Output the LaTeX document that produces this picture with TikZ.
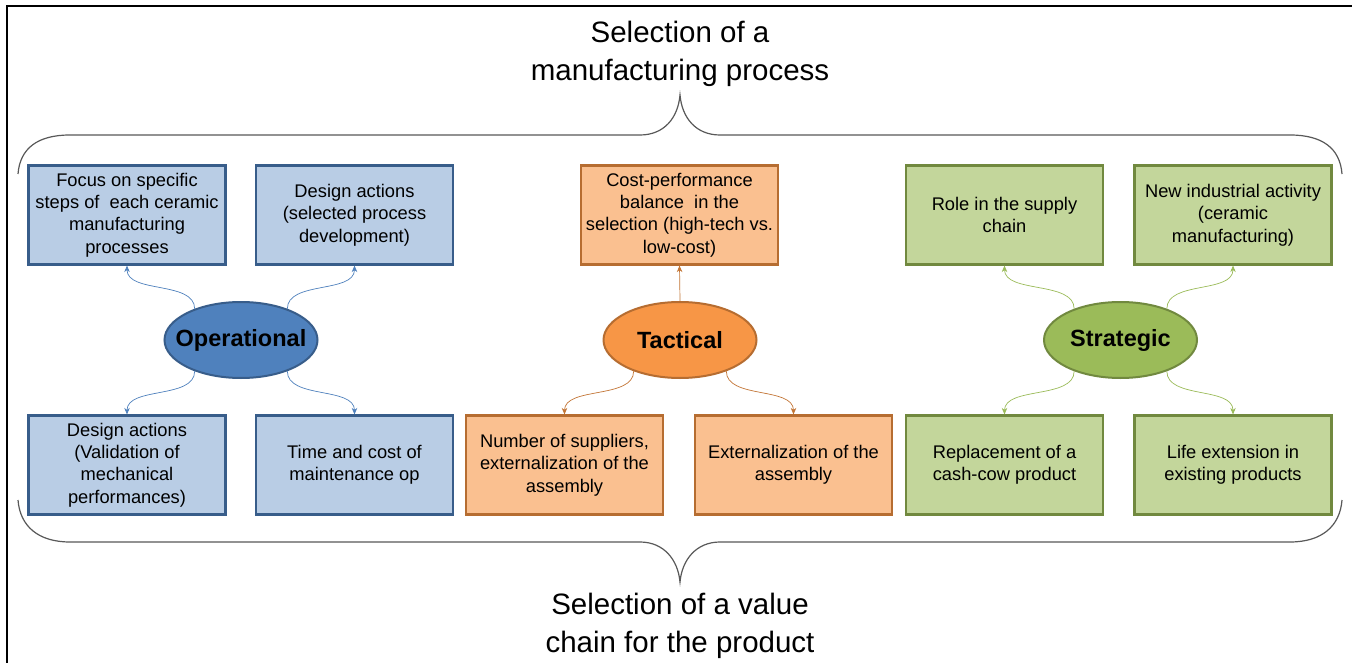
\documentclass[tikz,border=0pt]{standalone}
\usepackage{fontspec}
\setmainfont{Liberation Sans}
\usetikzlibrary{shapes.geometric,arrows.meta}
\definecolor{bfill}{HTML}{B9CDE5}\definecolor{bdraw}{HTML}{385D8A}\definecolor{bacc}{HTML}{4F81BD}
\definecolor{ofill}{HTML}{FAC090}\definecolor{odraw}{HTML}{B66D31}\definecolor{oacc}{HTML}{F79646}
\definecolor{gfill}{HTML}{C3D69B}\definecolor{gdraw}{HTML}{71893F}\definecolor{gacc}{HTML}{9BBB59}
\definecolor{bracecol}{HTML}{595959}
\newcommand{\zbox}[1]{\makebox[0pt][c]{#1}}
\tikzset{
  boxbase/.style={rectangle, minimum width=197pt, minimum height=99pt, line width=2.2pt, align=center, inner sep=2pt,
    font=\fontsize{18.3}{22.4}\selectfont},
  bbox/.style={boxbase, fill=bfill, draw=bdraw},
  obox/.style={boxbase, fill=ofill, draw=odraw},
  gbox/.style={boxbase, fill=gfill, draw=gdraw},
  ellbase/.style={ellipse, minimum width=153pt, minimum height=76pt, inner sep=0pt, line width=2pt,
    font=\fontsize{23.5}{27}\selectfont\bfseries},
  bell/.style={ellbase, fill=bacc, draw=bdraw},
  oell/.style={ellbase, fill=oacc, draw=odraw},
  gell/.style={ellbase, fill=gacc, draw=gdraw},
  conn/.style={line width=0.7pt, -{Stealth[length=6.5pt,width=5.5pt]}},
  bconn/.style={conn, draw=bacc},
  oconn/.style={conn, draw=odraw!80!oacc},
  gconn/.style={conn, draw=gacc},
  bracestyle/.style={draw=bracecol, line width=1.2pt},
  titletext/.style={align=center, font=\fontsize{29.5}{38}\selectfont}
}
\begin{document}
\begin{tikzpicture}[x=1pt,y=-1pt]
\useasboundingbox (0,0) rectangle (1352,663);
\fill[white] (0,0) rectangle (1352,663);
% frame
\coordinate (fr1) at (1352,6);
\coordinate (fr2) at (7,6);
\coordinate (fr3) at (7,663);
\draw[black, line width=1.4pt] (fr1) -- (fr2) -- (fr3);

% titles
\node[titletext] (ttop) at (680,54) {Selection of a\\manufacturing process};
\node[titletext] (tbot) at (680,626) {Selection of a value\\chain for the product};

% braces
\coordinate (tl) at (18,174);
\coordinate (tc) at (680,95);
\coordinate (tr) at (1342,174);
\draw[bracestyle] (tl) .. controls (20,148) and (38,135) .. (70,135) -- (640,135)
  .. controls (664,135) and (678,118) .. (tc)
  .. controls (682,118) and (696,135) .. (720,135) -- (1290,135)
  .. controls (1322,135) and (1340,148) .. (tr);
\coordinate (bl) at (18,500);
\coordinate (bc) at (680,582);
\coordinate (br) at (1342,500);
\draw[bracestyle] (bl) .. controls (20,526) and (38,542) .. (70,542) -- (640,542)
  .. controls (664,542) and (678,560) .. (bc)
  .. controls (682,560) and (696,542) .. (720,542) -- (1290,542)
  .. controls (1322,542) and (1340,526) .. (br);

% operational
\node[bbox] (b1) at (127,215) {Focus on specific\\steps of \ each ceramic\\manufacturing\\processes};
\node[bbox] (b2) at (354.5,215) {Design actions\\(selected process\\development)};
\node[bbox] (b3) at (127,465) {Design actions\\(Validation of\\mechanical\\performances)};
\node[bbox] (b4) at (354.5,465) {Time and cost of\\maintenance op};
\node[bell] (op) at (241,340) {\zbox{Operational}};
\draw[bconn] (op.146) .. controls +(0,-28) and +(0,28) .. (b1.south);
\draw[bconn] (op.34) .. controls +(0,-28) and +(0,28) .. (b2.south);
\draw[bconn] (op.214) .. controls +(0,28) and +(0,-28) .. (b3.north);
\draw[bconn] (op.-34) .. controls +(0,28) and +(0,-28) .. (b4.north);

% tactical
\node[obox] (t1) at (679.5,215) {Cost-performance\\balance \ in the\\selection (high-tech vs.\\low-cost)};
\node[obox] (t2) at (564.5,465) {Number of suppliers,\\externalization of the\\assembly};
\node[obox] (t3) at (793.5,465) {Externalization of the\\assembly};
\node[oell] (ta) at (680,340) {\zbox{Tactical}};
\draw[oconn] (ta.north) -- (t1.south);
\draw[oconn] (ta.214) .. controls +(0,28) and +(0,-28) .. (t2.north);
\draw[oconn] (ta.-34) .. controls +(0,28) and +(0,-28) .. (t3.north);

% strategic
\node[gbox] (s1) at (1004.5,215) {Role in the supply\\chain};
\node[gbox] (s2) at (1233,215) {New industrial activity\\(ceramic\\manufacturing)};
\node[gbox] (s3) at (1004.5,465) {Replacement of a\\cash-cow product};
\node[gbox] (s4) at (1233,465) {Life extension in\\existing products};
\node[gell] (st) at (1120.5,340) {\zbox{Strategic}};
\draw[gconn] (st.146) .. controls +(0,-28) and +(0,28) .. (s1.south);
\draw[gconn] (st.34) .. controls +(0,-28) and +(0,28) .. (s2.south);
\draw[gconn] (st.214) .. controls +(0,28) and +(0,-28) .. (s3.north);
\draw[gconn] (st.-34) .. controls +(0,28) and +(0,-28) .. (s4.north);
\end{tikzpicture}
\end{document}
